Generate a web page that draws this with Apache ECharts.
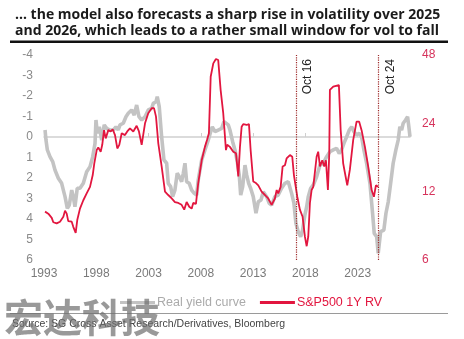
<!DOCTYPE html>
<html><head><meta charset="utf-8">
<script src="https://cdn.jsdelivr.net/npm/echarts@6/dist/echarts.min.js"></script>
<style>html,body{margin:0;padding:0;background:#fff}#c{width:464px;height:339px}</style>
</head><body><div id="c"></div>
<script>
const titleText = "\u2026 the model also forecasts a sharp rise in volatility over 2025\nand 2026, which leads to a rather small window for vol to fall";
const sourceText = "Source: SG Cross Asset Research/Derivatives, Bloomberg";
const seriesNames = ["Real yield curve", "S&P500 1Y RV"];
const leftTicks = [-4, 6, 1];       // min, max, step (inverted axis)
const rightTicks = [6, 12, 24, 48]; // log2 scale labels
const xStartYear = 1993, xEndYear = 2028, xStep = 5;
const eventYears = [2017.09, 2024.96];
const eventLabels = ["Oct 16", "Oct 24"];

const redYears = [1993.10,1993.41,1993.74,1993.89,1994.21,1994.53,1994.85,1995.01,1995.17,1995.32,
1995.65,1995.80,1996.03,1996.18,1996.44,1996.76,1997.08,1997.40,1997.66,1997.81,
1998.04,1998.19,1998.42,1998.57,1998.74,1998.90,1999.15,1999.38,1999.57,1999.79,
2000.01,2000.20,2000.43,2000.74,2000.96,2001.22,2001.54,2001.86,2002.08,2002.34,
2002.66,2002.97,2003.30,2003.52,2003.71,2003.93,2004.25,2004.57,2004.88,2005.21,
2005.52,2005.84,2006.16,2006.41,2006.64,2006.89,2007.12,2007.27,2007.53,2007.75,
2008.08,2008.39,2008.61,2008.77,2008.94,2009.19,2009.44,2009.66,2009.89,2010.14,
2010.40,2010.52,2010.78,2011.10,2011.36,2011.58,2011.74,2011.90,2012.05,2012.38,
2012.60,2012.76,2013.01,2013.27,2013.49,2013.81,2014.13,2014.44,2014.77,2015.08,
2015.25,2015.40,2015.63,2015.82,2016.04,2016.20,2016.52,2016.74,2016.90,2017.09,
2017.22,2017.47,2017.73,2017.95,2018.12,2018.27,2018.43,2018.59,2018.75,2018.91,
2019.07,2019.22,2019.39,2019.61,2019.80,2019.96,2020.15,2020.28,2020.34,2020.66,
2021.20,2021.37,2021.61,2021.78,2022.00,2022.25,2022.57,2022.89,2023.14,2023.37,
2023.69,2024.00,2024.33,2024.55,2024.74,2024.96];
const redValues = [9.8,9.6,9.2,8.8,8.7,8.85,9.3,9.9,9.6,8.9,
8.85,8.4,7.9,9.0,10.1,11.0,11.8,12.6,14.2,16.0,
18.3,18.8,18.0,19.3,22.4,20.6,22.4,22.1,22.6,21.3,
18.6,19.3,21.7,21.3,22.1,22.8,22.1,23.4,22.1,19.3,
24.0,26.6,28.0,28.0,25.7,19.6,15.5,12.0,11.6,11.2,
10.8,10.7,10.5,10.0,10.8,10.3,10.1,10.7,10.6,13.1,
16.5,18.9,20.4,21.7,38.5,44.1,46.1,45.6,33.7,26.6,
18.3,19.3,18.9,18.0,17.7,14.0,18.9,23.2,23.8,23.6,
23.8,18.3,13.3,13.1,12.8,12.0,11.6,11.2,10.5,11.2,
12.2,11.8,12.6,15.5,15.7,16.8,17.4,17.1,14.2,14.0,
11.4,10.0,9.3,7.6,6.9,7.6,10.7,12.2,12.6,12.6,
17.1,18.0,15.5,16.5,15.5,16.5,12.2,17.7,33.7,34.8,
35.4,22.4,16.0,14.5,12.8,15.0,20.3,24.4,24.4,22.4,
18.9,15.5,12.2,11.4,12.8,12.6];

const grayYears = [1993.10,1993.19,1993.32,1993.57,1993.83,1994.05,1994.37,1994.69,1994.85,1995.01,
1995.23,1995.42,1995.65,1995.80,1995.96,1996.18,1996.44,1996.76,1997.08,1997.40,
1997.66,1997.88,1997.97,1998.10,1998.29,1998.52,1998.76,1998.99,1999.31,1999.63,
1999.88,2000.10,2000.27,2000.58,2000.84,2001.06,2001.38,2001.63,2001.86,2002.08,
2002.34,2002.66,2002.97,2003.30,2003.45,2003.71,2003.83,2004.02,2004.25,2004.47,
2004.73,2004.88,2005.11,2005.30,2005.52,2005.74,2005.94,2006.16,2006.32,2006.48,
2006.64,2006.89,2007.12,2007.37,2007.60,2007.75,2008.08,2008.39,2008.71,2008.94,
2009.09,2009.35,2009.66,2009.99,2010.21,2010.40,2010.62,2010.78,2011.04,2011.26,
2011.48,2011.67,2011.81,2012.00,2012.22,2012.38,2012.57,2012.76,2013.01,2013.27,
2013.49,2013.75,2013.97,2014.29,2014.54,2014.77,2015.08,2015.40,2015.72,2016.04,
2016.36,2016.68,2016.90,2017.09,2017.31,2017.54,2017.73,2017.95,2018.12,2018.27,
2018.50,2018.75,2019.07,2019.39,2019.70,2020.03,2020.34,2020.66,2020.98,2021.23,
2021.46,2021.68,2021.94,2022.19,2022.42,2022.64,2022.89,2023.14,2023.37,2023.59,
2023.85,2024.17,2024.42,2024.58,2024.81,2024.96,2025.19,2025.50,2025.70,2025.92,
2026.15,2026.39,2026.65,2026.87,2027.03,2027.20,2027.35,2027.58,2027.77,2027.89,
2028.00];
const grayValues = [-0.34,0.15,0.63,0.96,1.20,1.61,2.01,2.26,2.59,2.91,
3.48,3.32,2.59,2.91,3.40,2.50,2.50,2.26,1.69,1.45,
0.96,0.31,-0.83,-0.18,-0.50,0.15,-0.59,-0.42,-0.34,-0.34,
-0.50,-0.34,-0.59,-0.67,-0.99,-1.16,-1.32,-1.07,-1.56,-0.99,
-0.83,-0.99,-1.32,-1.40,-1.64,-1.72,-1.97,-1.48,-0.01,1.12,
1.28,2.26,2.42,2.91,2.59,1.77,1.94,2.18,1.77,1.28,
2.18,2.26,2.59,2.75,2.83,2.10,1.12,0.63,0.15,-0.26,
-0.50,-0.26,-0.34,-0.42,-0.75,-0.83,-0.59,-0.34,0.23,0.63,
1.20,1.85,2.83,2.42,1.37,1.85,2.26,2.50,2.91,3.72,
3.16,3.07,2.67,2.91,3.23,3.32,2.91,2.83,2.50,2.26,
2.18,2.75,3.23,4.21,4.62,4.86,4.54,3.80,3.40,2.91,
2.50,2.34,1.94,1.37,1.28,0.96,0.72,0.63,0.55,0.80,
0.63,0.31,-0.01,-0.34,-0.50,-0.26,-0.10,-0.18,-0.01,0.63,
1.28,2.26,3.72,4.70,4.86,5.67,4.62,4.54,3.72,3.16,
2.26,1.28,0.63,0.15,-0.50,-0.34,-0.67,-0.83,-0.99,-0.50,
-0.01];

const RED = '#e2163f', GRAY = '#c3c3c3';
const base = rightTicks[0];
const grayData = grayYears.map((y, i) => [y - xStartYear, grayValues[i]]);
const redData = redYears.map((y, i) => [y - xStartYear, Math.log2(redValues[i] / base)]);
const xMax = xEndYear - xStartYear;

const chart = echarts.init(document.getElementById('c'), null, {renderer: 'canvas'});
const axisFont = {fontFamily: 'Liberation Sans', fontSize: 12};
chart.setOption({
  animation: false,
  title: {
    text: titleText, left: 10, top: 2,
    textStyle: {fontFamily: 'Open Sans', fontWeight: 'bold', fontSize: 14, lineHeight: 16, color: '#1b1b1b'}
  },
  grid: {left: 44, right: 54, top: 55, bottom: 79},
  legend: {
    left: 115, top: 291, itemWidth: 35, itemHeight: 3, itemGap: 14, icon: 'rect',
    data: [
      {name: seriesNames[0], textStyle: {color: '#ababab'}},
      {name: seriesNames[1], textStyle: {color: RED}}
    ],
    textStyle: {fontFamily: 'Liberation Sans', fontSize: 12.5, padding: [0,0,0,-3]}
  },
  xAxis: [
    {type: 'value', min: 0, max: xMax, interval: xStep, position: 'bottom',
     axisLine: {show: false, onZero: false}, axisTick: {show: false}, splitLine: {show: false},
     axisLabel: Object.assign({color: '#7a7a7a', margin: 8,
       formatter: v => v >= xMax ? '' : String(v + xStartYear)}, axisFont)},
    {type: 'value', min: 0, max: xMax, interval: xStep, position: 'top',
     axisLine: {show: true, onZero: true, onZeroAxisIndex: 0, lineStyle: {color: '#cfcfcf', width: 1.5}},
     axisTick: {show: true, length: 4, lineStyle: {color: '#cfcfcf'}},
     axisLabel: {show: false}, splitLine: {show: false}}
  ],
  yAxis: [
    {type: 'value', inverse: true, min: leftTicks[0], max: leftTicks[1], interval: leftTicks[2],
     axisLine: {show: false, onZero: false}, axisTick: {show: false}, splitLine: {show: false},
     axisLabel: Object.assign({color: '#8a8a8a', margin: 11}, axisFont)},
    {type: 'value', min: 0, max: Math.log2(rightTicks[3] / base), interval: 1, position: 'right',
     axisLine: {show: false, onZero: false}, axisTick: {show: false}, splitLine: {show: false},
     axisLabel: Object.assign({color: '#d6335c', margin: 12, formatter: v => String(Math.round(base * Math.pow(2, v)))}, axisFont)}
  ],
  series: [
    {name: seriesNames[0], type: 'line', xAxisIndex: 0, yAxisIndex: 0, data: grayData,
     showSymbol: false, symbol: 'none', lineStyle: {color: GRAY, width: 3.6}, itemStyle: {color: GRAY}, z: 2},
    {name: seriesNames[1], type: 'line', xAxisIndex: 0, yAxisIndex: 1, data: redData,
     showSymbol: false, symbol: 'none', lineStyle: {color: RED, width: 1.8}, itemStyle: {color: RED}, z: 3,
     markLine: {
       silent: true, symbol: 'none', animation: false,
       lineStyle: {color: '#9e2a2a', type: 'dotted', width: 1.2},
       label: {show: true, position: 'insideEndBottom', color: '#222', fontFamily: 'Liberation Sans', fontSize: 12, distance: [4, 6]},
       data: eventYears.map((y, i) => ({xAxis: y - xStartYear, label: {formatter: eventLabels[i]}}))
     }}
  ],
  graphic: [
    {type: 'rect', shape: {x: 10, y: 40.5, width: 438, height: 2.5}, style: {fill: '#111'}},
    {type: 'rect', shape: {x: 10, y: 313, width: 438, height: 1}, style: {fill: '#9a9a9a'}},
    {type: 'text', left: 12, top: 319, style: {text: sourceText, fill: '#444', font: '10.5px "Liberation Sans"'}},
    {type: 'text', left: 4, top: 298, z: 100, style: {text: '宏达科技', fill: 'rgba(110,110,110,0.7)', font: 'bold 39px "Noto Sans CJK SC"'}}
  ]
});
</script></body></html>
